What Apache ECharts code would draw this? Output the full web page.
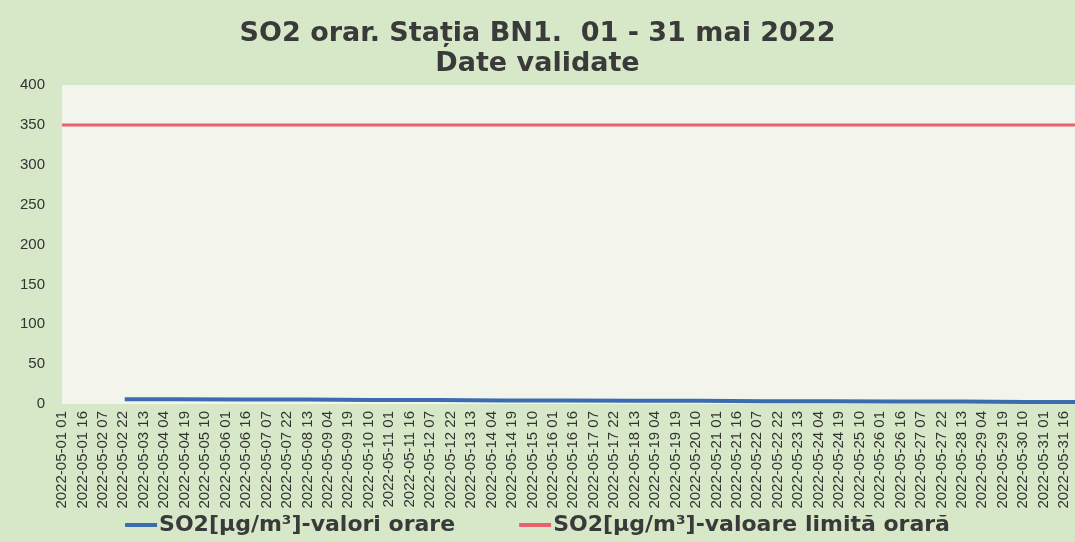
<!DOCTYPE html>
<html>
<head>
<meta charset="utf-8">
<title>SO2 orar BN1 mai 2022</title>
<script src="https://cdn.jsdelivr.net/npm/echarts@6/dist/echarts.min.js"></script>
<style>
  html, body { margin: 0; padding: 0; background: #d6e8c8; }
  #chart { width: 1075px; height: 542px; }
</style>
</head>
<body>
<div id="chart"></div>
<script>
// Hourly categories, 2022-05-01 01 .. 2022-06-01 00
const hours = [];
for (let day = 1; day <= 31; day++) {
  for (let h = 1; h <= 24; h++) {
    const d = h === 24 ? day + 1 : day;
    const hh = h === 24 ? 0 : h;
    const month = d > 31 ? '06' : '05';
    const dd = d > 31 ? 1 : d;
    hours.push(`2022-${month}-${String(dd).padStart(2, '0')} ${String(hh).padStart(2, '0')}`);
  }
}

// Hourly SO2 values (line starts late on 2 May)
const so2Times = [
  '2022-05-02 23', '2022-05-04 12', '2022-05-06 12', '2022-05-08 12',
  '2022-05-10 12', '2022-05-12 12', '2022-05-14 12', '2022-05-16 12',
  '2022-05-18 12', '2022-05-20 12', '2022-05-22 12', '2022-05-24 12',
  '2022-05-26 12', '2022-05-28 12', '2022-05-30 12', '2022-06-01 00'
];
const so2Values = [6, 6, 5.5, 5.5, 5, 5, 4.5, 4.5, 4, 4, 3.5, 3.5, 3, 3, 2.5, 2.5];

// Hourly limit value
const limitTimes = ['2022-05-01 01', '2022-06-01 00'];
const limitValues = [350, 350];

const yTicks = { min: 0, max: 400, interval: 50 };

const chart = echarts.init(document.getElementById('chart'));

chart.setOption({
  backgroundColor: '#d6e8c8',
  animation: false,
  textStyle: { fontFamily: 'Liberation Sans, Arial, sans-serif' },
  title: {
    text: 'SO2 orar. Stația BN1.  01 - 31 mai 2022\nDate validate',
    left: 'center',
    top: 14,
    textStyle: {
      fontFamily: 'DejaVu Sans',
      fontSize: 27,
      fontWeight: 'bold',
      color: '#3a3a3a',
      lineHeight: 30
    }
  },
  legend: {
    bottom: 1,
    left: 'center',
    itemWidth: 32,
    itemHeight: 4,
    itemGap: 64,
    icon: 'rect',
    textStyle: {
      fontFamily: 'DejaVu Sans',
      fontSize: 22,
      fontWeight: 'bold',
      color: '#3a3a3a',
      padding: [0, 0, 0, -3]
    },
    data: ['SO2[µg/m³]-valori orare', 'SO2[µg/m³]-valoare limită orară']
  },
  grid: {
    left: 62,
    right: 0,
    top: 85,
    bottom: 138,
    show: true,
    backgroundColor: '#f3f5ed',
    borderWidth: 0
  },
  xAxis: {
    type: 'category',
    data: hours,
    boundaryGap: false,
    axisLine: { show: false },
    axisTick: { show: false },
    axisLabel: {
      interval: 14,
      rotate: 90,
      fontSize: 15,
      color: '#333',
      margin: 7
    }
  },
  yAxis: {
    type: 'value',
    min: yTicks.min,
    max: yTicks.max,
    interval: yTicks.interval,
    axisLine: { show: false },
    axisTick: { show: false },
    splitLine: { show: false },
    axisLabel: { fontSize: 15, color: '#333', margin: 17 }
  },
  series: [
    {
      name: 'SO2[µg/m³]-valori orare',
      type: 'line',
      data: so2Times.map((t, i) => [t, so2Values[i]]),
      symbol: 'none',
      lineStyle: { width: 4, color: '#3b6caf' },
      itemStyle: { color: '#3b6caf' }
    },
    {
      name: 'SO2[µg/m³]-valoare limită orară',
      type: 'line',
      data: limitTimes.map((t, i) => [t, limitValues[i]]),
      symbol: 'none',
      lineStyle: { width: 3, color: '#e8616b' },
      itemStyle: { color: '#e8616b' }
    }
  ]
});
</script>
</body>
</html>
